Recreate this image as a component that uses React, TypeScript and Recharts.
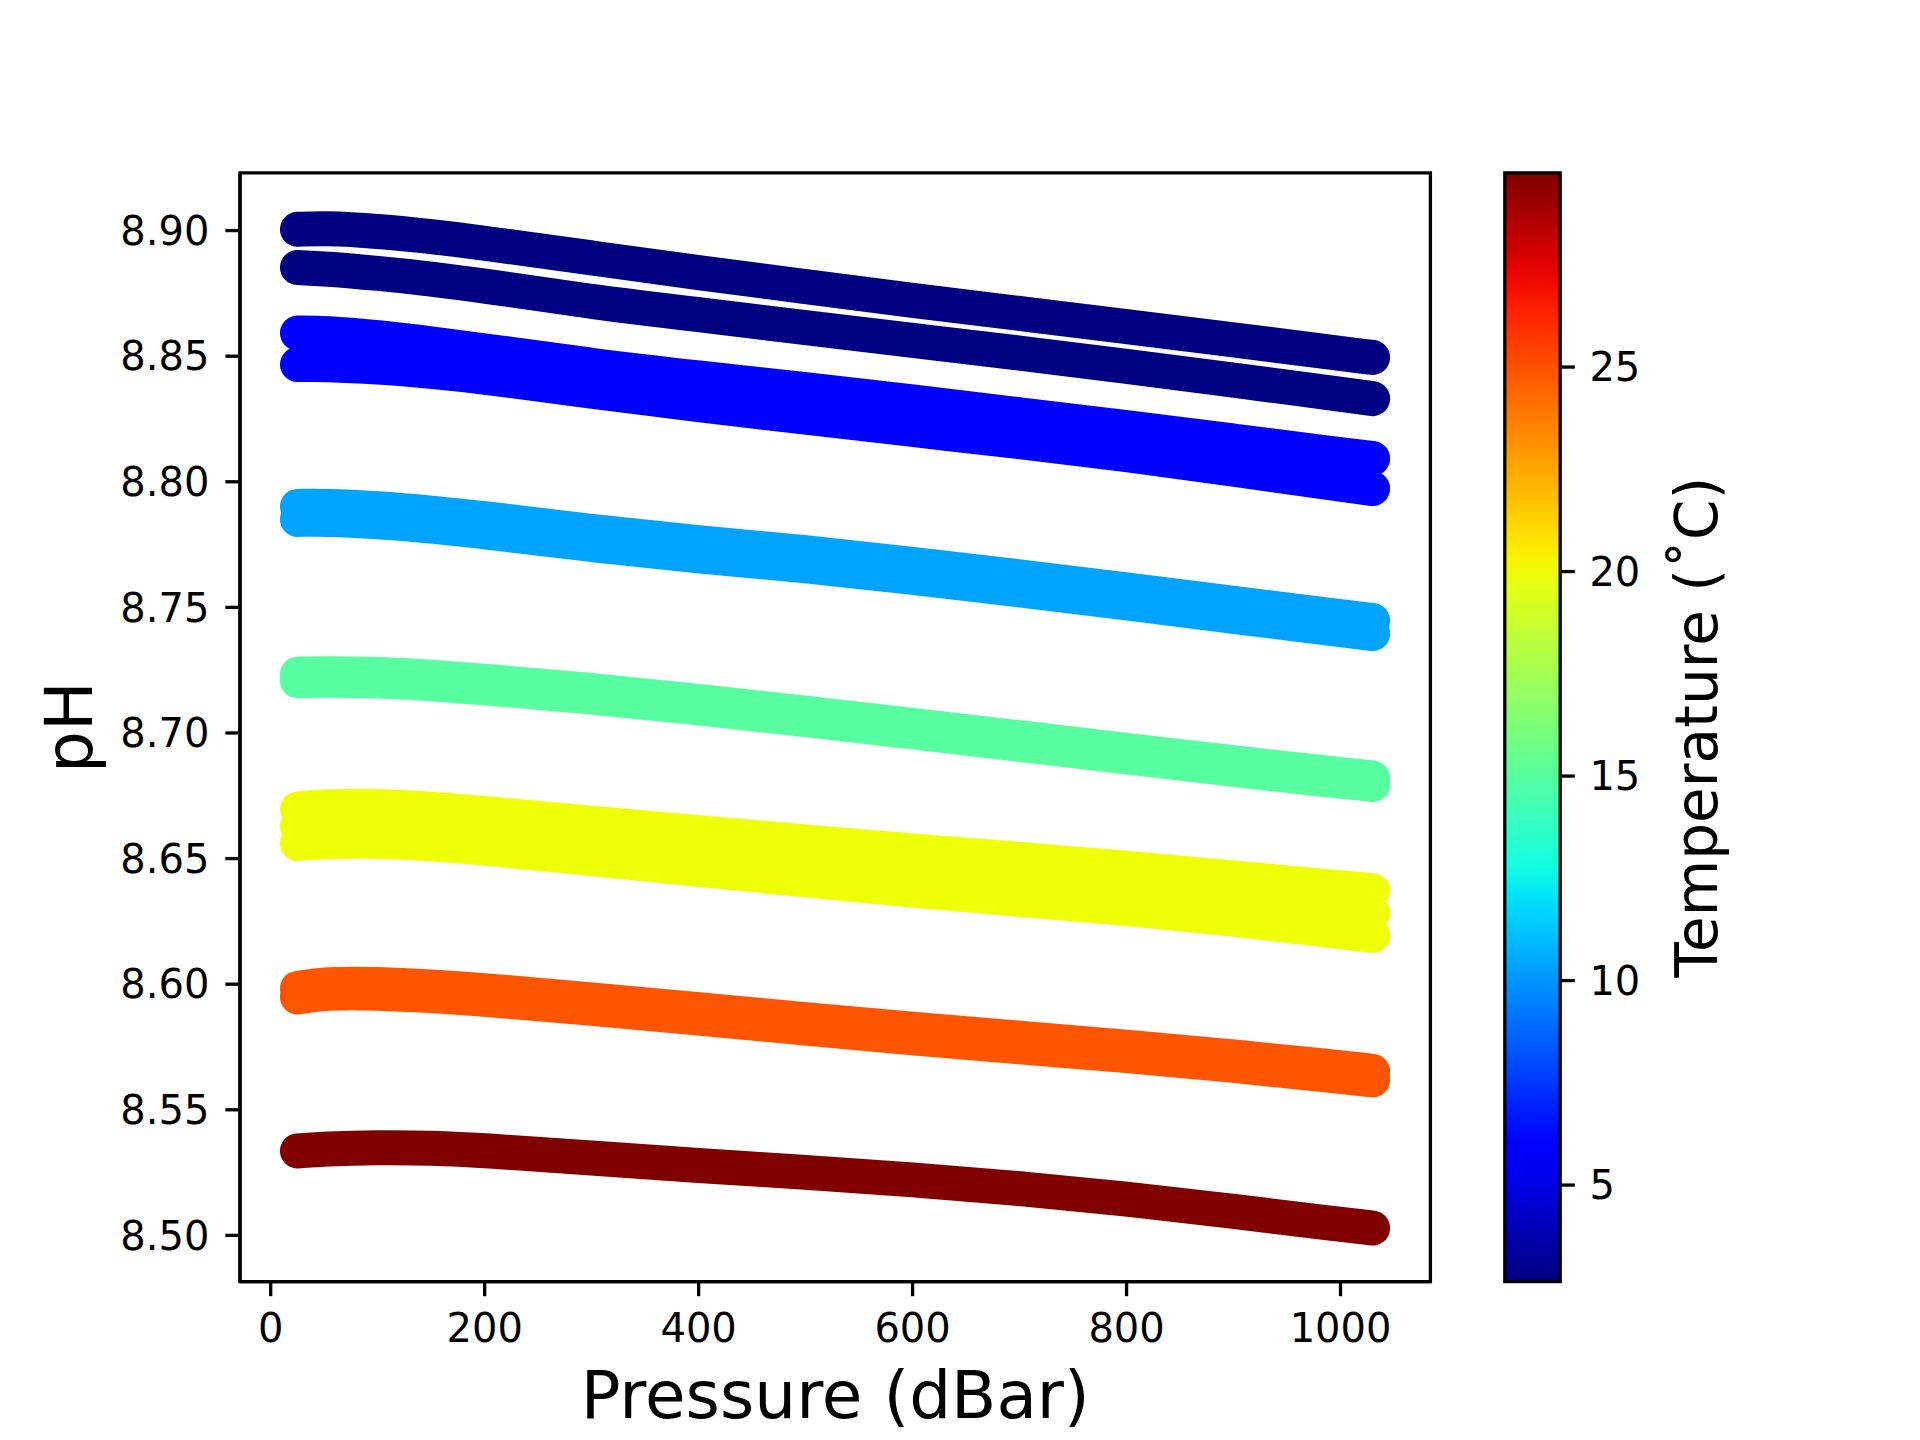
import { LineChart, ComposedChart, Line, XAxis, YAxis, ReferenceArea, Label } from "recharts"

// pressure samples (dBar) read along each band
const pressure = [25, 50, 100, 150, 200, 300, 400, 500, 600, 700, 800, 900, 1000, 1030]

// pH, one array per cast
const phNavyA = [8.9005, 8.901, 8.8998, 8.8977, 8.895, 8.8891, 8.8832, 8.8777, 8.8722, 8.867, 8.8618, 8.8565, 8.8511, 8.8495]
const phNavyB = [8.8853, 8.8848, 8.883, 8.8808, 8.878, 8.8716, 8.8665, 8.8614, 8.8563, 8.8513, 8.846, 8.8405, 8.8348, 8.8331]
const phBlueA = [8.8592, 8.8592, 8.8575, 8.855, 8.8522, 8.8462, 8.8413, 8.8368, 8.8318, 8.8267, 8.8216, 8.8162, 8.8108, 8.8093]
const phBlueB = [8.8467, 8.8468, 8.8458, 8.844, 8.8418, 8.836, 8.8307, 8.8257, 8.8208, 8.816, 8.811, 8.805, 8.799, 8.7973]
const phSkyA = [8.7902, 8.7904, 8.7894, 8.7876, 8.7854, 8.7801, 8.7756, 8.7719, 8.7672, 8.7622, 8.757, 8.7516, 8.7463, 8.7448]
const phSkyB = [8.785, 8.7852, 8.7842, 8.7824, 8.7802, 8.7749, 8.7704, 8.7667, 8.762, 8.757, 8.7518, 8.7464, 8.7411, 8.7396]
const phGreenA = [8.7234, 8.7237, 8.7234, 8.7223, 8.7206, 8.7171, 8.7126, 8.7079, 8.7031, 8.6981, 8.6931, 8.6881, 8.6834, 8.6821]
const phGreenB = [8.7208, 8.7211, 8.7208, 8.7197, 8.718, 8.7145, 8.71, 8.7053, 8.7005, 8.6955, 8.6905, 8.6855, 8.6808, 8.6795]
const phYellowA = [8.6697, 8.6708, 8.671, 8.6698, 8.668, 8.664, 8.6603, 8.6566, 8.653, 8.6497, 8.6462, 8.6423, 8.6384, 8.6372]
const phYellowM = [8.6628, 8.6638, 8.664, 8.6629, 8.6612, 8.657, 8.653, 8.649, 8.6452, 8.6418, 8.6382, 8.6342, 8.6297, 8.6283]
const phYellowB = [8.656, 8.6568, 8.657, 8.656, 8.6543, 8.65, 8.6457, 8.6415, 8.6374, 8.6338, 8.6302, 8.626, 8.621, 8.6194]
const phOrangeA = [8.5983, 8.6001, 8.6, 8.5989, 8.5975, 8.5938, 8.5899, 8.5859, 8.582, 8.5785, 8.575, 8.5712, 8.5667, 8.5653]
const phOrangeB = [8.5949, 8.5967, 8.5966, 8.5955, 8.5941, 8.5904, 8.5865, 8.5825, 8.5786, 8.5751, 8.5716, 8.5678, 8.5633, 8.5619]
const phRed = [8.5336, 8.5344, 8.535, 8.5348, 8.5338, 8.5308, 8.5278, 8.5251, 8.5222, 8.5187, 8.5146, 8.5096, 8.5044, 8.5029]

// temperature (°C) of each cast
const castTemps = [2.64, 2.7, 5.7, 5.7, 10.4, 10.4, 15, 15, 20, 20, 20, 24.9, 24.9, 29.75]
const castKeys = ["navyA", "navyB", "blueA", "blueB", "skyA", "skyB", "greenA", "greenB", "yellowA", "yellowM", "yellowB", "orangeA", "orangeB", "red"]
const castValues = [phNavyA, phNavyB, phBlueA, phBlueB, phSkyA, phSkyB, phGreenA, phGreenB, phYellowA, phYellowM, phYellowB, phOrangeA, phOrangeB, phRed]

const xTicks = [0, 200, 400, 600, 800, 1000]
const yTicks = [8.5, 8.55, 8.6, 8.65, 8.7, 8.75, 8.8, 8.85, 8.9]
const tempTicks = [5, 10, 15, 20, 25]
const tempMin = 2.64
const tempMax = 29.75
const xDomain = [-28.7, 1084]
const yDomain = [8.4816, 8.923]

const data = pressure.map((p, i) => {
  const row: Record<string, number> = { p }
  castKeys.forEach((k, j) => (row[k] = castValues[j][i]))
  return row
})

// matplotlib "jet" segment data
const jetR = [[0, 0], [0.35, 0], [0.66, 1], [0.89, 1], [1, 0.5]]
const jetG = [[0, 0], [0.125, 0], [0.375, 1], [0.64, 1], [0.91, 0], [1, 0]]
const jetB = [[0, 0.5], [0.11, 1], [0.34, 1], [0.65, 0], [1, 0]]

function seg(pts: number[][], t: number) {
  for (let i = 1; i < pts.length; i++) {
    if (t <= pts[i][0]) {
      const [x0, y0] = pts[i - 1]
      const [x1, y1] = pts[i]
      return y0 + ((t - x0) / (x1 - x0)) * (y1 - y0)
    }
  }
  return pts[pts.length - 1][1]
}

function jet(t: number) {
  const c = (v: number) => Math.round(Math.max(0, Math.min(1, v)) * 255)
  return `rgb(${c(seg(jetR, t))},${c(seg(jetG, t))},${c(seg(jetB, t))})`
}

const tempColor = (temp: number) => jet((temp - tempMin) / (tempMax - tempMin))

const font = "DejaVu Sans"
const tickStyle = { fontSize: 40, fill: "#000", fontFamily: font }
const lineStyle = { stroke: "#000", strokeWidth: 3.3 }

function Title({ x, y, text, size, angle = 0 }: { x: number; y: number; text: string; size: number; angle?: number }) {
  return (
    <text
      x={x}
      y={y}
      textAnchor="middle"
      fontSize={size}
      fontFamily={font}
      fill="#000"
      transform={angle ? `rotate(${angle} ${x} ${y})` : undefined}
    >
      {text}
    </text>
  )
}

export default function App() {
  const stops = Array.from({ length: 41 }, (_, i) => i / 40)
  return (
    <div style={{ position: "absolute", left: 0, top: 0, width: 1920, height: 1440, background: "#fff" }}>
      <div style={{ position: "absolute", left: 0, top: 0 }}>
        <LineChart width={1920} height={1440} data={data} margin={{ top: 172.8, right: 489.6, left: 140, bottom: 98.4 }}>
          <XAxis
            dataKey="p"
            type="number"
            domain={xDomain}
            ticks={xTicks}
            allowDataOverflow
            height={60}
            tick={tickStyle}
            tickSize={14.6}
            tickMargin={17}
            tickLine={lineStyle}
            axisLine={lineStyle}
          >
            <Label content={() => <Title x={835.2} y={1418} text="Pressure (dBar)" size={66} />} />
          </XAxis>
          <YAxis
            type="number"
            domain={yDomain}
            ticks={yTicks}
            allowDataOverflow
            width={100}
            tick={tickStyle}
            tickSize={14.6}
            tickMargin={16}
            tickFormatter={(v: number) => v.toFixed(2)}
            tickLine={lineStyle}
            axisLine={lineStyle}
          >
            <Label content={() => <Title x={92} y={727.2} text="pH" size={66} angle={-90} />} />
          </YAxis>
          {castKeys.map((k, j) => (
            <Line
              key={k}
              dataKey={k}
              type="basis"
              stroke={tempColor(castTemps[j])}
              strokeWidth={35}
              strokeLinecap="round"
              strokeLinejoin="round"
              dot={false}
              activeDot={false}
              isAnimationActive={false}
            />
          ))}
          {/* axes frame */}
          <ReferenceArea
            x1={xDomain[0]}
            x2={xDomain[1]}
            y1={yDomain[0]}
            y2={yDomain[1]}
            fill="none"
            stroke="#000"
            strokeWidth={3.3}
            ifOverflow="visible"
          />
        </LineChart>
      </div>
      <div style={{ position: "absolute", left: 0, top: 0 }}>
        <ComposedChart
          width={1920}
          height={1440}
          data={[{ x: 0, t: tempMin }, { x: 1, t: tempMax }]}
          margin={{ top: 172.8, right: 159.8, left: 1504.8, bottom: 158.4 }}
        >
          <defs>
            <linearGradient id="jet" x1="0" y1="1" x2="0" y2="0">
              {stops.map((s) => (
                <stop key={s} offset={`${s * 100}%`} stopColor={jet(s)} />
              ))}
            </linearGradient>
          </defs>
          <XAxis dataKey="x" type="number" domain={[0, 1]} hide />
          <YAxis
            orientation="right"
            type="number"
            domain={[tempMin, tempMax]}
            ticks={tempTicks}
            allowDataOverflow
            width={200}
            tick={tickStyle}
            tickSize={14.6}
            tickMargin={14.6}
            tickLine={lineStyle}
            axisLine={false}
          >
            <Label content={() => <Title x={1717} y={727.2} text="Temperature (˚C)" size={58} angle={-90} />} />
          </YAxis>
          <ReferenceArea x1={0} x2={1} y1={tempMin} y2={tempMax} fill="url(#jet)" fillOpacity={1} stroke="#000" strokeWidth={3.3} />
        </ComposedChart>
      </div>
    </div>
  )
}
